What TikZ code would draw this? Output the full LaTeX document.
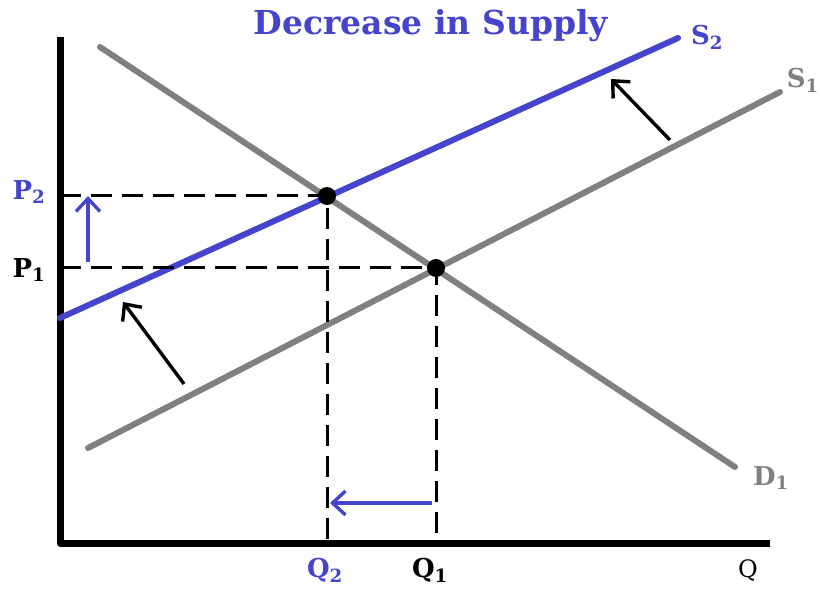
\documentclass[tikz,border=0pt]{standalone}
\usepackage{fontspec}
\setmainfont{DejaVu Serif}
\usetikzlibrary{arrows.meta}
\definecolor{supblue}{HTML}{4444CC}
\definecolor{curvegray}{HTML}{808080}
\tikzset{
    curve/.style={line width=6pt, line cap=round},
    guide/.style={line width=3pt, dash pattern=on 21pt off 10pt},
    shiftarrow/.style={line width=3.4pt, -{Straight Barb[length=13pt,width=24pt,line width=3.4pt]}},
    lab/.style={font=\fontsize{26}{30}\selectfont\bfseries}
}
\begin{document}
\begin{tikzpicture}[x=1pt,y=1pt, line join=round]
\useasboundingbox (0,0) rectangle (820,590);

% axes
\coordinate (O) at (60,47);
\coordinate (ytop) at (60,553);
\coordinate (xend) at (770,47);
\draw[line width=7pt] (ytop) -- (O) -- (xend);

% curves
\coordinate (d1a) at (100,543);
\coordinate (d1b) at (735,123);
\coordinate (s1a) at (88,142);
\coordinate (s1b) at (780,498);
\coordinate (s2a) at (60,272);
\coordinate (s2b) at (678,552);
\draw[curve, curvegray] (d1a) -- (d1b);
\draw[curve, curvegray] (s1a) -- (s1b);
\draw[curve, supblue] (s2a) -- (s2b);

% equilibria
\coordinate (E1) at (436,322);
\coordinate (E2) at (327,394);
\draw[guide] (E2 -| O) -- (E2) -- (E2 |- O);
\draw[guide] (E1 -| O) -- (E1) -- (E1 |- O);
\fill (E1) circle (9pt);
\fill (E2) circle (9pt);

% shifts
\coordinate (pup0) at (88,328);
\coordinate (pup1) at (88,394);
\coordinate (qlf0) at (432,87);
\coordinate (qlf1) at (330,87);
\coordinate (sh1a) at (670,450);
\coordinate (sh1b) at (611,511);
\coordinate (sh2a) at (184,206);
\coordinate (sh2b) at (123,288);
\draw[shiftarrow, supblue] (pup0) -- (pup1);
\draw[shiftarrow, supblue] (qlf0) -- (qlf1);
\draw[shiftarrow] (sh1a) -- (sh1b);
\draw[shiftarrow] (sh2a) -- (sh2b);

% labels
\node[lab, supblue, font=\fontsize{33}{36}\selectfont\bfseries] (title) at (431,564) {Decrease in Supply};
\node[lab, supblue] (lP2) at (29,398) {P$_{\mathbf 2}$};
\node[lab] (lP1) at (29,320) {P$_{\mathbf 1}$};
\node[lab, supblue] (lQ2) at (325,20) {Q$_{\mathbf 2}$};
\node[lab] (lQ1) at (430,20) {Q$_{\mathbf 1}$};
\node[lab, font=\fontsize{24}{28}\selectfont] (lQ) at (748,19) {Q};
\node[lab, curvegray] (lD1) at (771,112) {D$_{\mathbf 1}$};
\node[lab, curvegray, anchor=east, inner sep=1pt] (lS1) at (820,510) {S$_{\mathbf 1}$};
\node[lab, supblue] (lS2) at (707,553) {S$_{\mathbf 2}$};

\end{tikzpicture}
\end{document}
